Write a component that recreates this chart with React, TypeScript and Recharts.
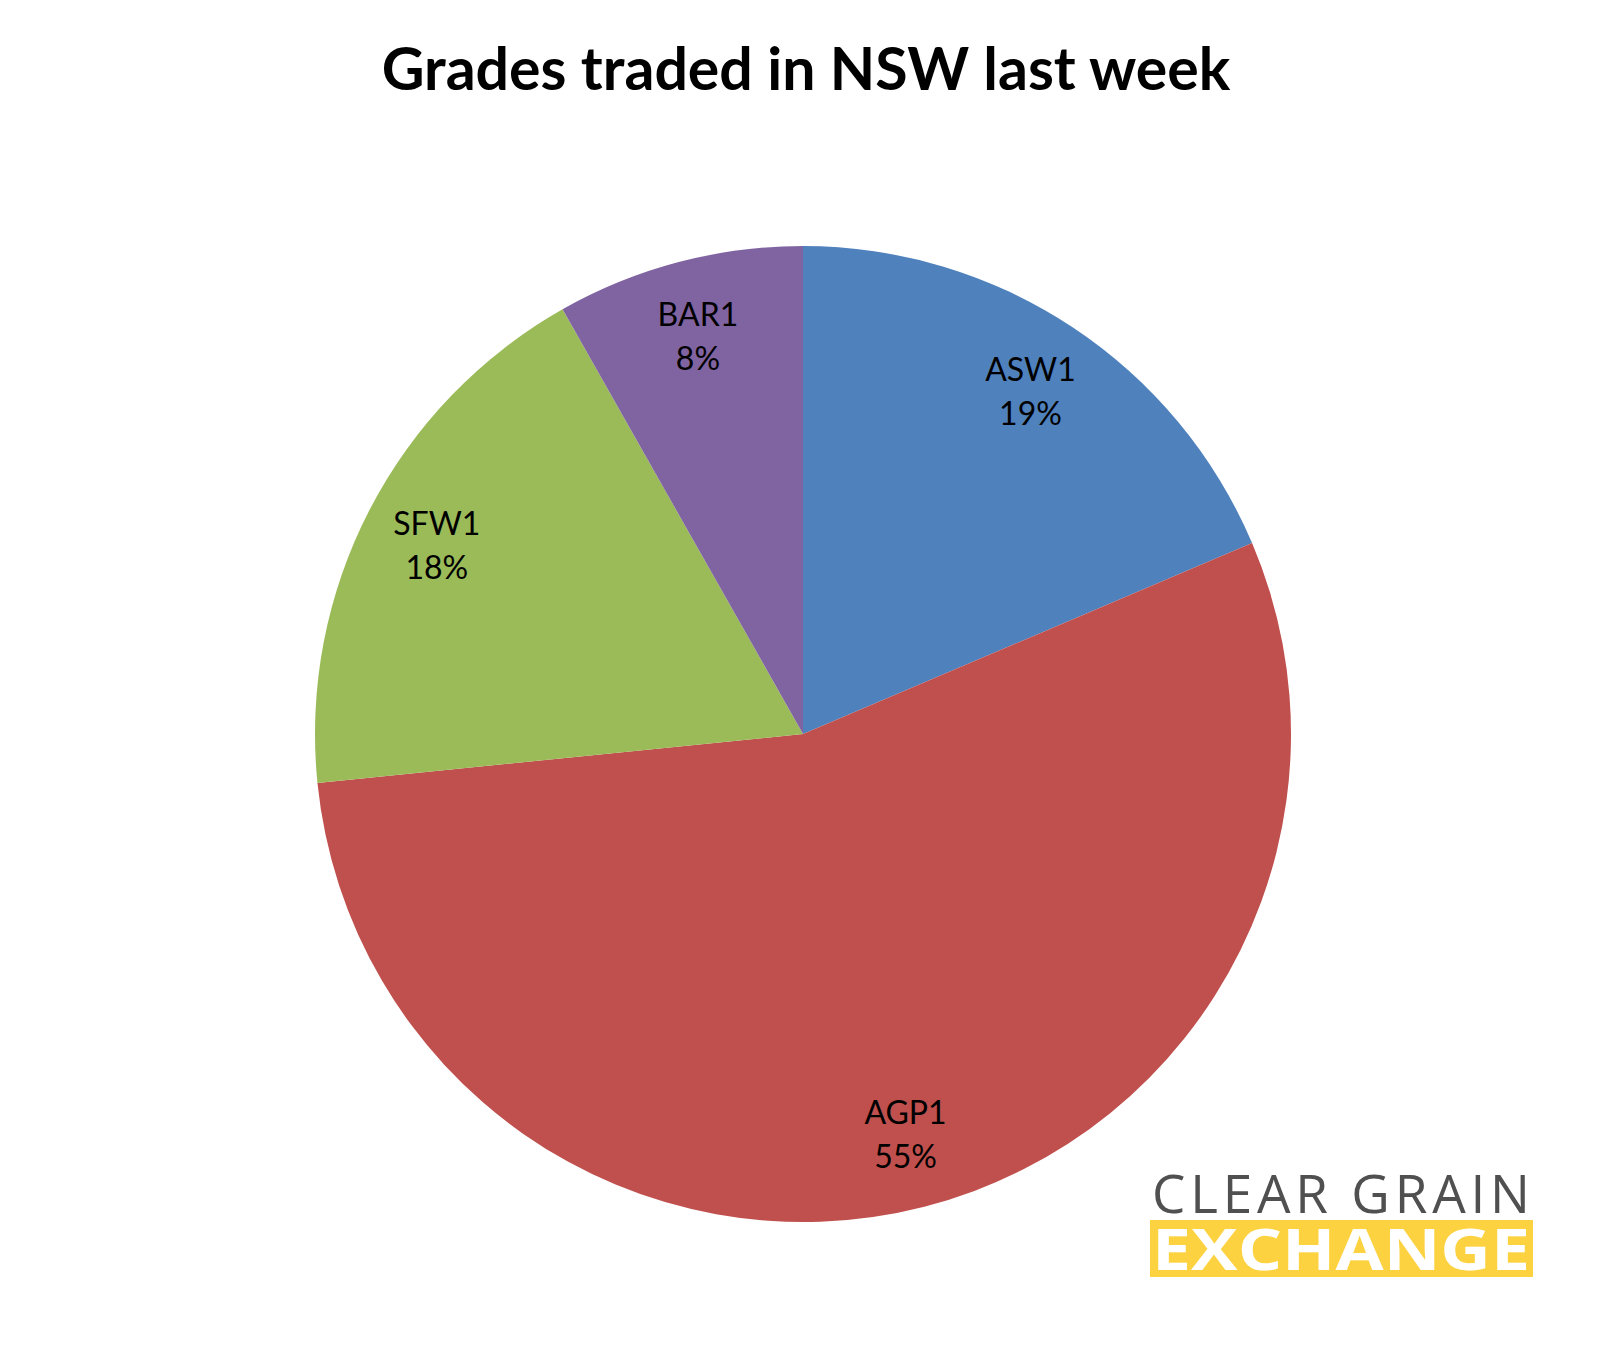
import { PieChart, Pie, Cell } from "recharts";

const grades = ["ASW1", "AGP1", "SFW1", "BAR1"];
const shares = [18.6, 54.8, 18.4, 8.2];
const percentLabels = ["19%", "55%", "18%", "8%"];
const sliceColors = ["#4F81BD", "#C0504D", "#9BBB59", "#8064A2"];

const RAD = Math.PI / 180;
const labelFont = "Lato, 'Open Sans', sans-serif";

const data = grades.map((name, i) => ({ name, value: shares[i], pct: percentLabels[i] }));

const renderLabel = (props: any) => {
  const { cx, cy, midAngle, outerRadius, index } = props;
  const r = outerRadius * 0.845;
  const x = cx + r * Math.cos(-midAngle * RAD);
  const y = cy + r * Math.sin(-midAngle * RAD);
  return (
    <g>
      <text x={x} y={y - 22} textAnchor="middle" dominantBaseline="central" fontFamily={labelFont} fontSize={32} fill="#000">
        {grades[index]}
      </text>
      <text x={x} y={y + 22} textAnchor="middle" dominantBaseline="central" fontFamily={labelFont} fontSize={32} fill="#000">
        {percentLabels[index]}
      </text>
    </g>
  );
};

const Logo = () => (
  <svg width={1608} height={1351} style={{ position: "absolute", left: 0, top: 0, pointerEvents: "none" }}>
    <text
      x={806}
      y={67}
      textAnchor="middle"
      dominantBaseline="central"
      fontFamily="Lato, 'Open Sans', sans-serif"
      fontWeight={700}
      fontSize={59}
      fill="#000"
    >
      Grades traded in NSW last week
    </text>
    <text
      x={1152}
      y={1213}
      fontFamily="'Open Sans', sans-serif"
      fontWeight={400}
      fontSize={53}
      fill="#505050"
      textLength={378}
      lengthAdjust="spacing"
    >
      CLEAR GRAIN
    </text>
    <rect x={1150} y={1220} width={383} height={57} fill="#FCD240" />
    <text
      x={1152}
      y={1270}
      fontFamily="'Open Sans', sans-serif"
      fontWeight={700}
      fontSize={58}
      fill="#FFFFFF"
      textLength={378}
      lengthAdjust="spacingAndGlyphs"
    >
      EXCHANGE
    </text>
  </svg>
);

const App = () => {
  return (
    <div style={{ position: "absolute", left: 0, top: 0, width: 1608, height: 1351, background: "#fff" }}>
      <PieChart width={1608} height={1351} margin={{ top: 0, right: 0, bottom: 0, left: 0 }}>
        <Pie
          data={data}
          dataKey="value"
          nameKey="name"
          cx={803}
          cy={734}
          outerRadius={488}
          startAngle={90}
          endAngle={-270}
          stroke="none"
          label={renderLabel}
          labelLine={false}
          isAnimationActive={false}
        >
          {data.map((d, i) => (
            <Cell key={d.name} fill={sliceColors[i]} />
          ))}
        </Pie>
      </PieChart>
      <Logo />
    </div>
  );
};

export default App;
